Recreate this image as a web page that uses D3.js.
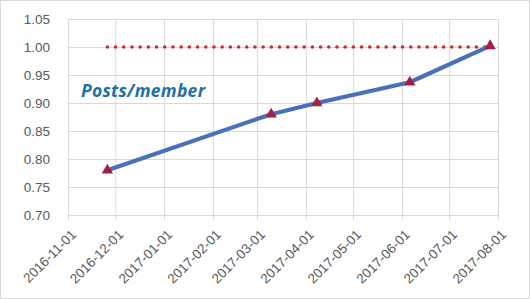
<!DOCTYPE html>
<html>
<head>
<meta charset="utf-8">
<script src="https://cdn.jsdelivr.net/npm/d3@7"></script>
<style>
  body { margin: 0; background: #fff; }
  text { font-family: "Liberation Sans", Arial, sans-serif; }
</style>
</head>
<body>
<div id="chart"></div>
<script>
// data
var pointDates = ["2016-11-26", "2017-03-10", "2017-04-08", "2017-06-06", "2017-07-27"];
var postsPerMember = [0.78, 0.88, 0.90, 0.937, 1.002];
var targetValues = [1.00, 1.00, 1.00, 1.00, 1.00];
var yTicks = [0.70, 0.75, 0.80, 0.85, 0.90, 0.95, 1.00, 1.05];
var xTicks = ["2016-11-01", "2016-12-01", "2017-01-01", "2017-02-01", "2017-03-01",
              "2017-04-01", "2017-05-01", "2017-06-01", "2017-07-01", "2017-08-01"];
var seriesLabel = "Posts/member";

var svgWidth = 530;
var svgHeight = 299;
var margin = { top: 19, right: 32, bottom: 84, left: 68 };
var chartWidth = svgWidth - margin.left - margin.right;
var chartHeight = svgHeight - margin.top - margin.bottom;

var parse = d3.timeParse("%Y-%m-%d");
var tickDates = xTicks.map(parse);

var svg = d3.select("#chart").append("svg")
  .attr("width", svgWidth)
  .attr("height", svgHeight);

// outer border
svg.append("rect")
  .attr("x", 0.5).attr("y", 0.5)
  .attr("width", svgWidth - 1).attr("height", svgHeight - 1)
  .attr("fill", "#fff").attr("stroke", "#d9d9d9");

var g = svg.append("g")
  .attr("transform", `translate(${margin.left}, ${margin.top})`);

var xScale = d3.scaleTime()
  .domain([tickDates[0], tickDates[tickDates.length - 1]])
  .range([0, chartWidth]);

var yScale = d3.scaleLinear()
  .domain([0.70, 1.05])
  .range([chartHeight, 0]);

// horizontal gridlines
g.append("g")
  .call(d3.axisLeft(yScale).tickValues(yTicks).tickSize(-chartWidth).tickFormat(""))
  .call(a => a.select(".domain").remove())
  .call(a => a.selectAll("line").attr("stroke", "#d9d9d9"));

// vertical gridlines, running a little below the plot as tick marks
g.append("g")
  .attr("transform", `translate(0, ${chartHeight + 5})`)
  .call(d3.axisBottom(xScale).tickValues(tickDates).tickSize(-(chartHeight + 5)).tickFormat(""))
  .call(a => a.select(".domain").remove())
  .call(a => a.selectAll("line").attr("stroke", "#d9d9d9"));

// y labels
g.append("g")
  .call(d3.axisLeft(yScale).tickValues(yTicks).tickSize(0).tickPadding(18).tickFormat(d3.format(".2f")))
  .call(a => a.select(".domain").remove())
  .call(a => a.selectAll("text").attr("fill", "#595959").style("font-size", "13.5px"));

// x labels, rotated
g.append("g")
  .attr("transform", `translate(0, ${chartHeight})`)
  .call(d3.axisBottom(xScale).tickValues(tickDates).tickSize(0).tickFormat(d3.timeFormat("%Y-%m-%d")))
  .call(a => a.select(".domain").remove())
  .call(a => a.selectAll("text")
    .attr("fill", "#595959")
    .style("font-size", "13.5px")
    .attr("text-anchor", "end")
    .attr("dy", "0.35em")
    .attr("transform", "translate(3, 15) rotate(-45)"));

var pts = pointDates.map(function(d, i) {
  return { date: parse(d), value: postsPerMember[i], target: targetValues[i] };
});

// red dotted target line
g.append("path")
  .datum(pts)
  .attr("fill", "none")
  .attr("stroke", "#c42a32")
  .attr("stroke-width", 3.6)
  .attr("stroke-linecap", "round")
  .attr("stroke-dasharray", "0 8.2")
  .attr("d", d3.line().x(d => xScale(d.date)).y(d => yScale(d.target)));

// blue series line
g.append("path")
  .datum(pts)
  .attr("fill", "none")
  .attr("stroke", "#4a70b8")
  .attr("stroke-width", 4.2)
  .attr("stroke-linejoin", "round")
  .attr("d", d3.line().x(d => xScale(d.date)).y(d => yScale(d.value)));

// triangle markers
g.selectAll(".marker")
  .data(pts)
  .enter()
  .append("path")
  .attr("class", "marker")
  .attr("d", d3.symbol().type(d3.symbolTriangle).size(56))
  .attr("transform", d => `translate(${xScale(d.date)}, ${yScale(d.value)})`)
  .attr("fill", "#a3213f");

// series label
g.append("text")
  .attr("x", 13)
  .attr("y", 78)
  .attr("fill", "#1f6fa8")
  .style("font-size", "17.5px")
  .style("font-weight", "bold")
  .style("font-style", "italic")
  .style("font-family", "'Open Sans', sans-serif")
  .attr("textLength", 124)
  .text(seriesLabel);
</script>
</body>
</html>
